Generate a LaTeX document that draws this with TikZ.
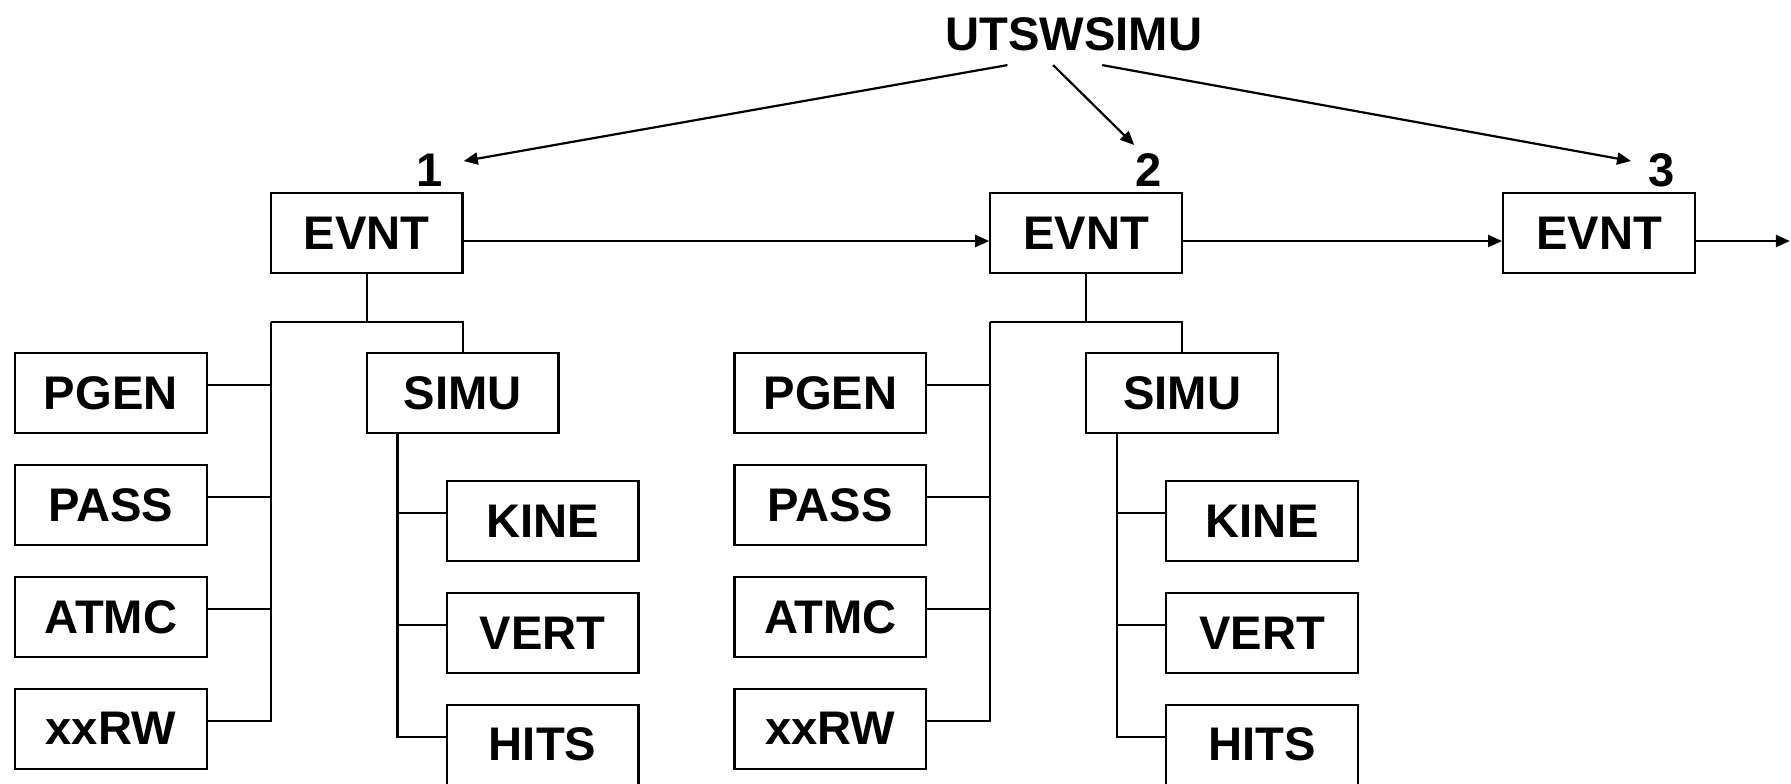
\documentclass[tikz,border=0pt]{standalone}
\usepackage{fontspec}
\setmainfont{Liberation Sans}
\usetikzlibrary{arrows.meta,calc}
\begin{document}
\begin{tikzpicture}[x=0.02cm,y=-0.02cm,
  box/.style={draw,line width=1.1pt,minimum width=3.36cm,minimum height=1.4cm,inner sep=0pt,font=\bfseries\fontsize{23.5}{28}\selectfont},
  lbl/.style={inner sep=0pt,font=\bfseries\fontsize{23.5}{28}\selectfont},
  conn/.style={line width=1.1pt},
  arr/.style={line width=1.1pt,-{Triangle[length=7pt,width=6pt]}}]
\clip (0,0) rectangle (1568,686);
\node[lbl] (top) at (940,30) {UTSWSIMU};
\node[lbl] (n1) at (376,149) {1};
\node[lbl] (n2) at (1006,149) {2};
\node[lbl] (n3) at (1455,149) {3};
\node[box] (ev1) at (321,204) {EVNT};
\node[box] (ev2) at (951,204) {EVNT};
\node[box] (ev3) at (1400,204) {EVNT};
\coordinate (s1) at (882,57); \coordinate (t1) at (406,141);
\coordinate (s2) at (922,57); \coordinate (t2) at (993,127);
\coordinate (s3) at (965,57); \coordinate (t3) at (1428,141);
\draw[arr] (s1) -- (t1);
\draw[arr] (s2) -- (t2);
\draw[arr] (s3) -- (t3);
\draw[arr] ($(ev1.east)+(0,7)$) -- ($(ev2.west)+(0,7)$);
\draw[arr] ($(ev2.east)+(0,7)$) -- ($(ev3.west)+(0,7)$);
\coordinate (out) at (1567,211);
\draw[arr] ($(ev3.east)+(0,7)$) -- (out);
\foreach \g/\dx in {1/0,2/630}{
  \node[box] (pgen\g) at (97+\dx,344) {PGEN};
  \node[box] (pass\g) at (97+\dx,442) {PASS};
  \node[box] (atmc\g) at (97+\dx,540) {ATMC};
  \node[box] (xxrw\g) at (97+\dx,638) {xxRW};
  \node[box] (simu\g) at (405+\dx,344) {SIMU};
  \node[box] (kine\g) at (475+\dx,456) {KINE};
  \node[box] (vert\g) at (475+\dx,554) {VERT};
  \node[box] (hits\g) at (475+\dx,652) {HITS};
  \coordinate (bus\g) at (237+\dx,282);
  \draw[conn] (ev\g.south) |- (bus\g);
  \draw[conn] (bus\g) -| (simu\g.north);
  \foreach \n in {pgen,pass,atmc,xxrw} \draw[conn] ($(\n\g.east)+(0,-7)$) -| (bus\g);
  \coordinate (stem\g) at ($(simu\g.south west)+(28,0)$);
  \foreach \n in {kine,vert,hits} \draw[conn] (stem\g) |- ($(\n\g.west)+(0,-7)$);
}
\end{tikzpicture}
\end{document}
